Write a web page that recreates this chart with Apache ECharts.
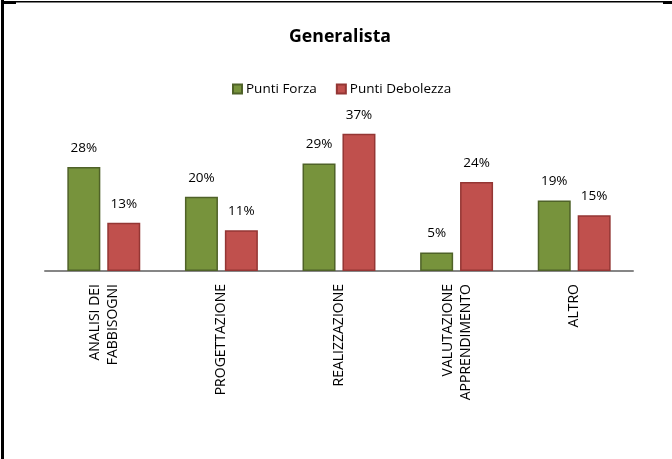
<!DOCTYPE html>
<html>
<head>
<meta charset="utf-8">
<script src="https://cdn.jsdelivr.net/npm/echarts@6/dist/echarts.min.js"></script>
<style>
html,body{margin:0;padding:0;background:#fff;}
#chart{width:672px;height:459px;}
</style>
</head>
<body>
<div id="chart"></div>
<script>
// Categories and values (percent)
const categories = ['ANALISI DEI\nFABBISOGNI', 'PROGETTAZIONE', 'REALIZZAZIONE', 'VALUTAZIONE\nAPPRENDIMENTO', 'ALTRO'];
const puntiForza = [28, 20, 29, 5, 19];
const puntiDebolezza = [13, 11, 37, 24, 15];
const seriesNames = ['Punti Forza', 'Punti Debolezza'];

const FONT = '"Open Sans", sans-serif';
const chart = echarts.init(document.getElementById('chart'), null, {renderer: 'canvas'});

const labelOpt = {
  show: true,
  position: 'top',
  distance: 12,
  formatter: p => p.value + '%',
  color: '#000',
  fontFamily: FONT,
  fontSize: 13.5
};

chart.setOption({
  animation: false,
  title: {
    text: 'Generalista',
    left: 284,
    top: 23,
    textStyle: {fontFamily: FONT, fontWeight: 'bold', fontSize: 17.7, color: '#000'}
  },
  legend: {
    data: seriesNames,
    top: 77,
    left: 227,
    itemWidth: 9,
    itemHeight: 9,
    itemGap: 19,
    icon: 'rect',
    textStyle: {fontFamily: FONT, fontSize: 13.5, color: '#000', padding: [0, 0, 0, -1]}
  },
  grid: {left: 45, right: 39, top: 122.6, bottom: 459 - 271, containLabel: false},
  xAxis: {
    type: 'category',
    data: categories,
    axisLine: {lineStyle: {color: '#868686', width: 2}},
    axisTick: {show: false},
    axisLabel: {
      rotate: 90,
      interval: 0,
      margin: 13,
      color: '#000',
      fontFamily: FONT,
      fontSize: 14,
      lineHeight: 18
    }
  },
  yAxis: {
    type: 'value',
    min: 0,
    max: 40,
    show: false,
    splitLine: {show: false}
  },
  series: [
    {
      name: seriesNames[0],
      type: 'bar',
      data: puntiForza,
      barWidth: 33,
      barGap: '21%',
      itemStyle: {color: '#77933C', borderColor: '#4F6228', borderWidth: 1.5},
      label: labelOpt
    },
    {
      name: seriesNames[1],
      type: 'bar',
      data: puntiDebolezza,
      barWidth: 33,
      itemStyle: {color: '#C0504D', borderColor: '#943634', borderWidth: 1.5},
      label: labelOpt
    }
  ],
  graphic: [
    {type: 'rect', shape: {x: 1, y: 0, width: 3, height: 459}, style: {fill: '#000'}},
    {type: 'rect', shape: {x: 1, y: 1, width: 671, height: 1.5}, style: {fill: '#000'}},
    {type: 'rect', shape: {x: 1, y: 1, width: 15, height: 3}, style: {fill: '#000'}},
    {type: 'rect', shape: {x: 663, y: 1, width: 9, height: 3}, style: {fill: '#000'}}
  ]
});
</script>
</body>
</html>
